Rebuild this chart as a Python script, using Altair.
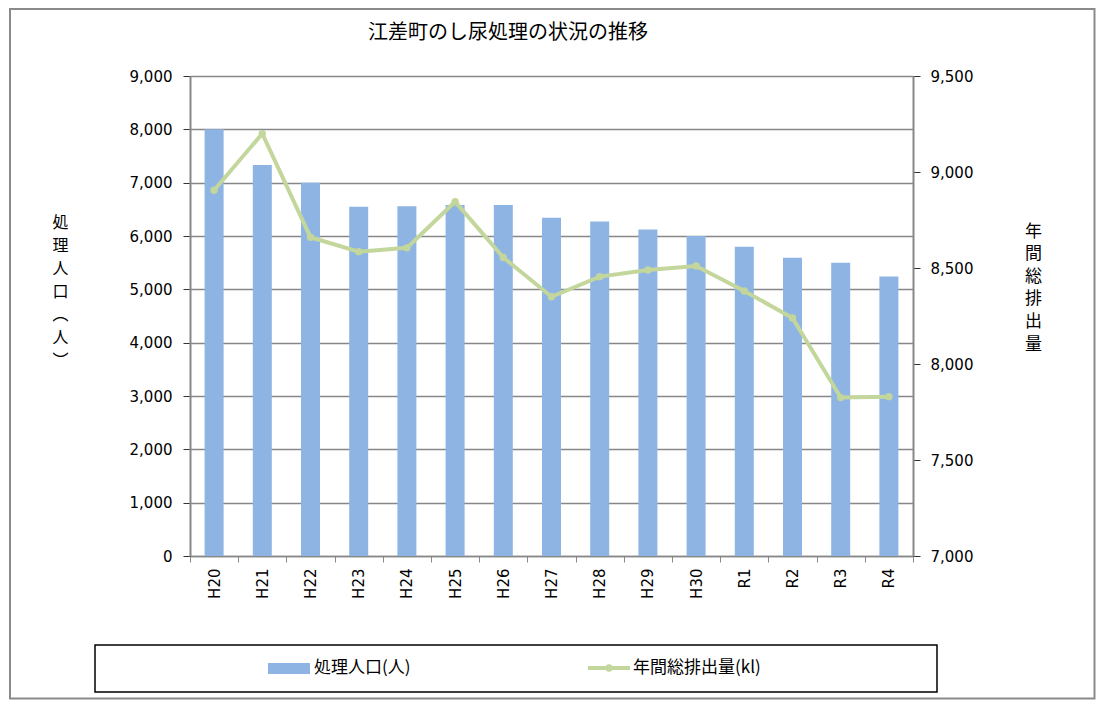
import altair as alt
import pandas as pd

categories = ["H20", "H21", "H22", "H23", "H24", "H25", "H26", "H27", "H28", "H29", "H30", "R1", "R2", "R3", "R4"]
population = [8000, 7330, 7000, 6550, 6560, 6580, 6580, 6340, 6270, 6120, 6000, 5800, 5590, 5500, 5240]
discharge = [8905, 9200, 8660, 8585, 8605, 8845, 8555, 8350, 8455, 8490, 8510, 8380, 8240, 7825, 7830]

left_ticks = [0, 1000, 2000, 3000, 4000, 5000, 6000, 7000, 8000, 9000]
right_ticks = [7000, 7500, 8000, 8500, 9000, 9500]

title_text = "江差町のし尿処理の状況の推移"
left_title = ["処", "理", "人", "口", "︵", "人", "︶"]
right_title = ["年", "間", "総", "排", "出", "量"]
legend_bar = "処理人口(人)"
legend_line = "年間総排出量(kl)"

BAR_COLOR = "#8EB4E3"
LINE_COLOR = "#C3D69B"
NUM_FONT = "DejaVu Sans"
JP_FONT = "Noto Sans CJK JP"

df = pd.DataFrame({"cat": categories, "pop": population, "dis": discharge})
one = pd.DataFrame({"a": [0]})

W, H = 723, 480

x_enc = alt.X("cat:N", sort=None,
              scale=alt.Scale(paddingInner=0, paddingOuter=0),
              axis=alt.Axis(title=None, labelAngle=-90, labelFont=NUM_FONT, labelFontSize=15,
                            labelColor="#000", labelPadding=6, tickBand="extent",
                            tickColor="#888", tickSize=6, domainColor="#888", domainWidth=1.5,
                            grid=False))

bars = alt.Chart(df).mark_bar(size=19, color=BAR_COLOR).encode(
    x=x_enc,
    y=alt.Y("pop:Q", scale=alt.Scale(domain=[0, 9000], nice=False),
            axis=alt.Axis(values=left_ticks, format=",.0f", labelFont=NUM_FONT, labelFontSize=15,
                          labelColor="#000", labelPadding=11, tickSize=7, tickColor="#333",
                          domainColor="#888", domainWidth=2,
                          grid=True, gridColor="#878787", gridWidth=1.3,
                          title=left_title, titleAngle=0, titleX=-130, titleY=138,
                          titleAlign="center", titleBaseline="top", titleFont=JP_FONT,
                          titleFontSize=16, titleFontWeight="normal", titleLineHeight=23,
                          titleColor="#000")),
)

line = alt.Chart(df).mark_line(
    color=LINE_COLOR, strokeWidth=4,
    point=alt.OverlayMarkDef(filled=True, size=55, color=LINE_COLOR)
).encode(
    x=alt.X("cat:N", sort=None),
    y=alt.Y("dis:Q", scale=alt.Scale(domain=[7000, 9500], nice=False, zero=False),
            axis=alt.Axis(orient="right", values=right_ticks, format=",.0f", labelFont=NUM_FONT,
                          labelFontSize=15, labelColor="#000", labelPadding=10, tickSize=7,
                          tickColor="#333", domainColor="#888", domainWidth=2, grid=False,
                          title=right_title, titleAngle=0, titleX=120, titleY=147,
                          titleAlign="center", titleBaseline="top", titleFont=JP_FONT,
                          titleFontSize=17, titleFontWeight="normal", titleLineHeight=22.6,
                          titleColor="#000")),
)

title = alt.Chart(one).mark_text(font=JP_FONT, fontSize=20, color="#000",
                                 align="center", baseline="middle").encode(
    x=alt.value(318), y=alt.value(-43), text=alt.value(title_text))

outer = alt.Chart(one).mark_rect(fillOpacity=0, stroke="#8a8a8a", strokeWidth=2).encode(
    x=alt.value(-180), x2=alt.value(904.5), y=alt.value(-67), y2=alt.value(622.5))

legend_box = alt.Chart(one).mark_rect(fill="white", stroke="#000", strokeWidth=1.5).encode(
    x=alt.value(-95), x2=alt.value(747), y=alt.value(569), y2=alt.value(616))

leg_swatch = alt.Chart(one).mark_rect(color=BAR_COLOR).encode(
    x=alt.value(78), x2=alt.value(120), y=alt.value(587), y2=alt.value(598))

leg_text1 = alt.Chart(one).mark_text(font=JP_FONT, fontSize=17, color="#000",
                                     align="left", baseline="middle").encode(
    x=alt.value(124), y=alt.value(592), text=alt.value(legend_bar))

leg_line = alt.Chart(one).mark_rule(color=LINE_COLOR, strokeWidth=4).encode(
    x=alt.value(398), x2=alt.value(440), y=alt.value(592))

leg_point = alt.Chart(one).mark_point(filled=True, size=55, color=LINE_COLOR, opacity=1).encode(
    x=alt.value(419), y=alt.value(592))

leg_text2 = alt.Chart(one).mark_text(font=JP_FONT, fontSize=17, color="#000",
                                     align="left", baseline="middle").encode(
    x=alt.value(443), y=alt.value(592), text=alt.value(legend_line))

chart = alt.layer(
    outer, bars, line, title, legend_box, leg_swatch, leg_text1, leg_line, leg_point, leg_text2
).resolve_scale(y="independent").properties(
    width=W, height=H,
    autosize=alt.AutoSizeParams(type="none"),
    padding={"left": 182, "top": 68, "right": 183, "bottom": 144},
).configure_view(stroke=None).configure(background="white")

chart.save("out.html", embed_options={"renderer": "svg", "actions": False})
